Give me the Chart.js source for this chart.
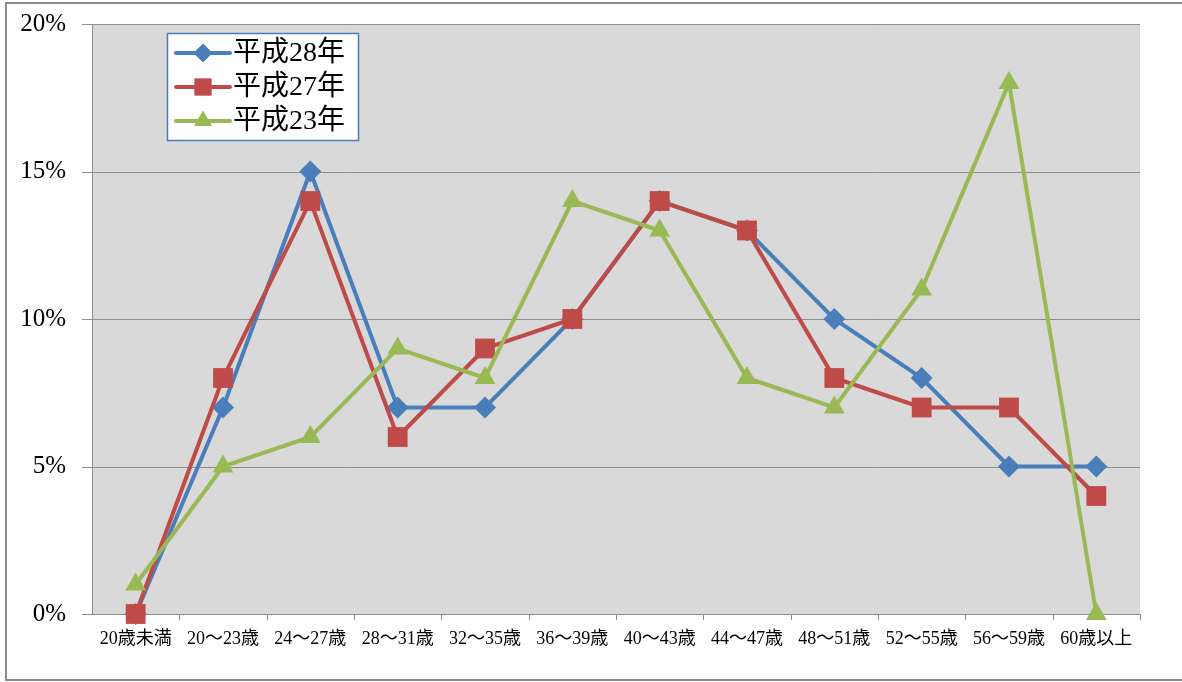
<!DOCTYPE html>
<html>
<head>
<meta charset="utf-8">
<script src="https://cdn.jsdelivr.net/npm/chart.js@4/dist/chart.umd.min.js"></script>
<style>
  html, body { margin: 0; padding: 0; background: #fff; }
  #wrap { width: 1182px; height: 682px; position: relative; }
</style>
</head>
<body>
<div id="wrap"><canvas id="c" width="1182" height="682"></canvas></div>
<script>
const categories = ['20歳未満', '20～23歳', '24～27歳', '28～31歳', '32～35歳', '36～39歳',
  '40～43歳', '44～47歳', '48～51歳', '52～55歳', '56～59歳', '60歳以上']
const h28 = [0, 7, 15, 7, 7, 10, 14, 13, 10, 8, 5, 5]
const h27 = [0, 8, 14, 6, 9, 10, 14, 13, 8, 7, 7, 4]
const h23 = [1, 5, 6, 9, 8, 14, 13, 8, 7, 11, 18, 0]
const yTicks = [0, 5, 10, 15, 20]

const FONT = '"Liberation Serif", "DejaVu Serif", "Noto Sans CJK JP", serif'

// frame + plot background + legend box
const decor = {
  id: 'decor',
  beforeDatasetsDraw(chart) {
    const { ctx, chartArea: a } = chart
    ctx.save()
    ctx.fillStyle = '#d9d9d9'
    ctx.fillRect(a.left, a.top, a.right - a.left, a.bottom - a.top)
    // horizontal grid lines, with small tick to the left
    const y = chart.scales.y
    ctx.strokeStyle = '#8c8c8c'
    ctx.lineWidth = 1
    yTicks.forEach((v) => {
      const py = Math.round(y.getPixelForValue(v)) + 0.5
      ctx.beginPath()
      ctx.moveTo(a.left - 10, py)
      ctx.lineTo(a.right, py)
      ctx.stroke()
    })
    // axis lines
    ctx.beginPath()
    ctx.moveTo(a.left + 0.5, a.top)
    ctx.lineTo(a.left + 0.5, a.bottom)
    ctx.stroke()
    // category ticks below x axis
    const n = categories.length
    const w = (a.right - a.left) / n
    for (let i = 1; i <= n; i++) {
      const px = Math.round(a.left + i * w) + 0.5
      ctx.beginPath()
      ctx.moveTo(px, a.bottom)
      ctx.lineTo(px, a.bottom + 6)
      ctx.stroke()
    }
    ctx.restore()
  },
  afterDraw(chart) {
    const { ctx } = chart
    ctx.save()
    // outer frame
    ctx.strokeStyle = '#8c8c8c'
    ctx.lineWidth = 2
    ctx.beginPath()
    ctx.moveTo(1182, 3)
    ctx.lineTo(6, 3)
    ctx.lineTo(6, 680)
    ctx.lineTo(1182, 680)
    ctx.stroke()

    // legend
    const lx = 167, ly = 33, lw = 191, lh = 107
    ctx.fillStyle = '#fff'
    ctx.fillRect(lx, ly, lw, lh)
    ctx.strokeStyle = '#4a7ebb'
    ctx.lineWidth = 1.5
    ctx.strokeRect(lx + 0.5, ly + 0.5, lw, lh)
    ctx.font = '28px ' + FONT
    ctx.textBaseline = 'middle'
    chart.data.datasets.forEach((ds, i) => {
      const cy = ly + 20 + i * 34
      ctx.strokeStyle = ds.borderColor
      ctx.lineWidth = 4
      ctx.lineCap = 'round'
      ctx.beginPath()
      ctx.moveTo(lx + 9, cy)
      ctx.lineTo(lx + 63, cy)
      ctx.stroke()
      ctx.fillStyle = ds.borderColor
      ctx.beginPath()
      Chart.helpers.drawPoint(ctx, {
        pointStyle: ds.pointStyle,
        radius: ds.pointRadius * 0.85,
        rotation: 0,
        borderWidth: 0,
      }, lx + 36, cy)
      ctx.fill()
      ctx.fillStyle = '#000'
      ctx.fillText(ds.label, lx + 66, cy + 1)
    })
    ctx.restore()
  },
}

const mkSet = (label, data, color, style, r, order) => ({
  label,
  data,
  order,
  clip: false,
  borderColor: color,
  backgroundColor: color,
  pointBackgroundColor: color,
  pointBorderColor: color,
  borderWidth: 4,
  pointStyle: style,
  pointRadius: r,
  pointHoverRadius: r,
  pointBorderWidth: 0,
  tension: 0,
})

new Chart(document.getElementById('c'), {
  type: 'line',
  data: {
    labels: categories,
    datasets: [
      mkSet('平成28年', h28, '#4a7ebb', 'rectRot', 11, 2),
      mkSet('平成27年', h27, '#be4b48', 'rect', 14, 1),
      mkSet('平成23年', h23, '#98b954', 'triangle', 12, 0),
    ],
  },
  options: {
    responsive: false,
    animation: false,
    layout: { padding: { top: 24, left: 0, right: 42, bottom: 0 } },
    plugins: { legend: { display: false }, tooltip: { enabled: false } },
    scales: {
      x: {
        offset: true,
        grid: { display: false, drawTicks: false },
        border: { display: true, color: '#8c8c8c', width: 1 },
        ticks: { color: '#000', font: { family: FONT, size: 18 }, maxRotation: 0, autoSkip: false, padding: 14 },
        afterFit: (s) => { s.height = 68; s.paddingLeft = 0; s.paddingRight = 0 },
      },
      y: {
        min: 0,
        max: 20,
        grid: { display: false, drawTicks: false },
        border: { display: false },
        ticks: {
          stepSize: 5,
          color: '#000',
          font: { family: FONT, size: 25 },
          padding: 26,
          callback: (v) => v + '%',
        },
        afterFit: (s) => { s.width = 92; s.paddingTop = 0; s.paddingBottom = 0 },
      },
    },
  },
  plugins: [decor],
})
</script>
</body>
</html>
